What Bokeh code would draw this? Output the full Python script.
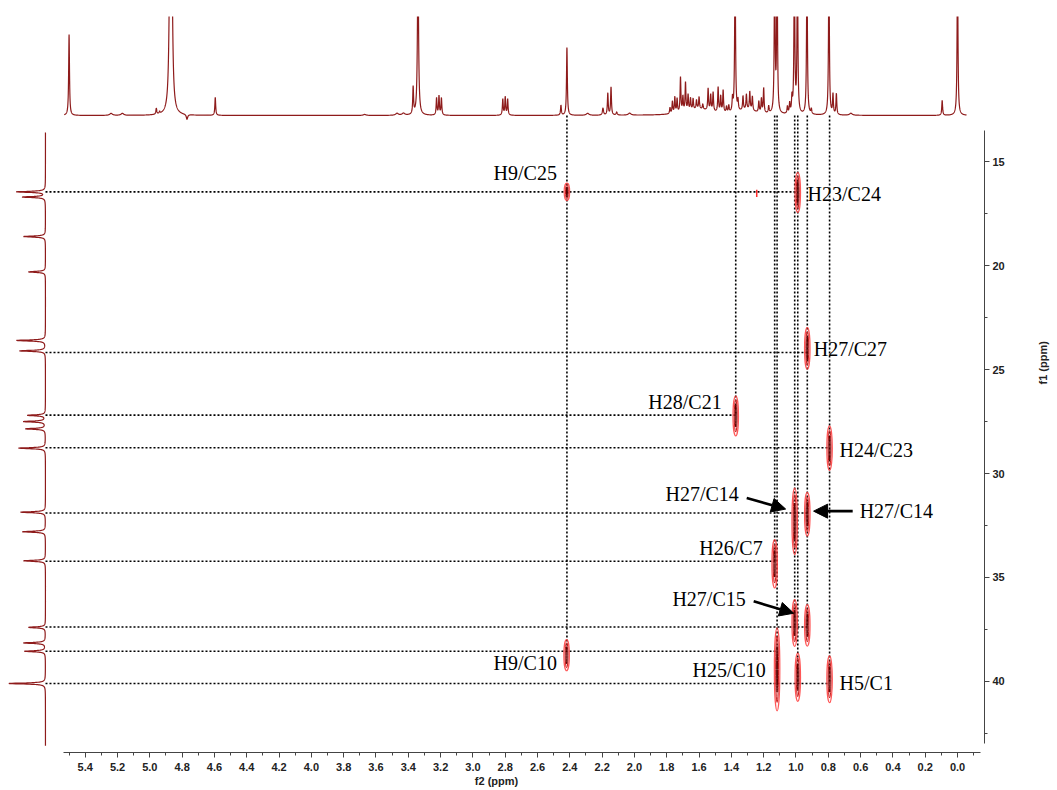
import numpy as np
from bokeh.plotting import figure
from bokeh.models import Range1d, FixedTicker, Arrow, NormalHead, NumeralTickFormatter, ColumnDataSource
from bokeh.core.properties import value
from bokeh.embed import file_html
from bokeh.resources import INLINE

# ---------------- data ----------------
f2_ticks = [5.4, 5.2, 5.0, 4.8, 4.6, 4.4, 4.2, 4.0, 3.8, 3.6, 3.4, 3.2, 3.0, 2.8,
            2.6, 2.4, 2.2, 2.0, 1.8, 1.6, 1.4, 1.2, 1.0, 0.8, 0.6, 0.4, 0.2, 0.0]
f2_minor = [5.5, 5.3, 5.1, 4.9, 4.7, 4.5, 4.3, 4.1, 3.9, 3.7, 3.5, 3.3, 3.1, 2.9, 2.7,
            2.5, 2.3, 2.1, 1.9, 1.7, 1.5, 1.3, 1.1, 0.9, 0.7, 0.5, 0.3, 0.1, -0.1]
f1_ticks = [15, 20, 25, 30, 35, 40]
f1_minor = [17.5, 22.5, 27.5, 32.5, 37.5, 42.5]

# 1H projection (ppm, height, half width)
h1_pos = [5.50, 5.24, 5.17, 4.96, 4.94, 4.875, 4.865, 4.77, 4.595, 3.67, 3.47, 3.43, 3.37, 3.34,
          3.225, 3.21, 3.195, 2.815, 2.80, 2.785, 2.455, 2.418, 2.29, 2.195, 2.165, 2.145, 2.11, 2.03,
          1.78, 1.765, 1.75, 1.736, 1.715, 1.70, 1.684, 1.668, 1.653, 1.637, 1.616, 1.60, 1.577,
          1.544, 1.528, 1.513, 1.482, 1.466, 1.451, 1.43, 1.416, 1.393, 1.377, 1.359, 1.328, 1.307,
          1.286, 1.27, 1.23, 1.214, 1.20, 1.169, 1.132, 1.117, 1.053, 1.039, 1.025, 1.010, 0.991,
          0.932, 0.905, 0.796, 0.771, 0.750, 0.66, 0.095, 0.0, 1.60, 1.30]
h1_int = [81, 2, 2, 6, 2, 160, 160, -5, 18, 1, 2, 2, 27, 160,
          17, 19, 17, 16, 18, 16, 10, 68, 2, 7, 22, 28, 3, 2,
          6, 12, 16, 14, 35, 15, 29, 16, 12, 11, 9, 12, 5,
          22, 16, 19, 25, 16, 22, 6, 7, 13, 160, 10, 14, 15,
          18, 14, 11, 14, 25, 7, 160, 160, 7, 10, 15, 160, 160,
          160, 5, 160, 20, 21, 2, 15, 160, 6, 5]
h1_w = [0.003, 0.01, 0.01, 0.003, 0.003, 0.006, 0.006, 0.005, 0.003, 0.01, 0.01, 0.01, 0.003, 0.004,
        0.003, 0.003, 0.003, 0.003, 0.003, 0.003, 0.003, 0.003, 0.01, 0.004, 0.003, 0.003, 0.004, 0.01,
        0.003, 0.003, 0.003, 0.003, 0.003, 0.003, 0.003, 0.003, 0.003, 0.003, 0.003, 0.003, 0.003,
        0.003, 0.003, 0.003, 0.003, 0.003, 0.003, 0.003, 0.003, 0.003, 0.003, 0.003, 0.003, 0.003,
        0.003, 0.003, 0.003, 0.003, 0.003, 0.003, 0.003, 0.003, 0.003, 0.003, 0.003, 0.003, 0.003,
        0.003, 0.003, 0.003, 0.003, 0.003, 0.01, 0.003, 0.003, 0.09, 0.06]

# 13C projection (ppm, height)
c13_pos = [16.45, 16.7, 18.6, 20.3, 23.6, 24.1, 27.2, 27.5, 27.85, 28.78, 31.86, 32.8, 34.2,
           37.4, 38.15, 38.55, 40.1]
c13_int = [29, 23, 22, 17, 29, 26, 18, 22, 20, 27, 25, 23, 22, 17, 22, 21, 37]

# HMBC cross peaks (f2, f1, extent in f1)
cp_f2 = [2.418, 0.989, 0.930, 1.373, 0.792, 1.008, 0.930, 1.132, 1.008, 0.930, 1.117, 0.989, 0.792, 2.420]
cp_f1 = [16.45, 16.48, 23.98, 27.23, 28.78, 32.30, 31.96, 34.34, 37.19, 37.30, 39.42, 39.80, 39.90, 38.74]
cp_h = [0.85, 1.93, 2.00, 1.93, 2.14, 3.20, 2.10, 2.33, 2.25, 2.00, 4.00, 2.33, 2.25, 1.50]
# weak artefact peaks (f2, f1 start, f1 end)
art_f2 = [1.243]
art_f1a = [16.35]
art_f1b = [16.70]

# dotted connectors
hline_f1 = [16.45, 24.18, 27.19, 28.76, 31.90, 34.22, 37.38, 38.55, 40.10]
hline_end = [0.989, 0.930, 1.373, 0.792, 0.930, 1.132, 0.930, 1.117, 0.792]
vline_f2 = [2.418, 1.373, 1.132, 1.117, 1.008, 0.989, 0.930, 0.792]
vline_end = [38.55, 27.19, 34.22, 38.55, 37.38, 40.10, 37.38, 40.10]

# labels
labL_text = ["H23/C24", "H27/C27", "H24/C23", "H27/C14", "H5/C1"]
labL_f2 = [0.928, 0.890, 0.730, 0.606, 0.730]
labL_f1 = [16.54, 24.00, 28.87, 31.81, 40.10]
labR_text = ["H9/C25", "H28/C21", "H27/C14", "H26/C7", "H27/C15", "H25/C10", "H9/C10"]
labR_f2 = [2.480, 1.460, 1.354, 1.206, 1.311, 1.187, 2.480]
labR_f1 = [15.53, 26.56, 31.00, 33.60, 36.05, 39.47, 39.13]

arrow_x0 = [1.305, 0.649, 1.262]
arrow_y0 = [31.18, 31.81, 36.15]
arrow_x1 = [1.064, 0.891, 1.014]
arrow_y1 = [31.71, 31.81, 36.72]

# layout parameters
TOP_F1 = 12.78      # f1 level of the 1H trace baseline
LEFT_F2 = 5.646     # f2 level of the 13C trace baseline
SPEC = "#8e1b1b"

# ---------------- figure ----------------
p = figure(width=1057, height=790, x_range=Range1d(5.875, -0.167), y_range=Range1d(43.42, 8.015),
           output_backend="svg", toolbar_location=None, y_axis_location="right",
           min_border_left=8, min_border_top=16, min_border_right=72, min_border_bottom=38)
p.extra_y_ranges = {"top": Range1d(-637, 99)}
p.extra_x_ranges = {"left": Range1d(37, -940)}
p.outline_line_color = None
p.xgrid.visible = False
p.ygrid.visible = False
p.background_fill_color = "white"

# 1H trace
xs = np.linspace(5.53, -0.056, 8000)
ys = np.zeros_like(xs)
for pos, h, w in zip(h1_pos, h1_int, h1_w):
    ys += h / (1 + ((xs - pos) / w) ** 2)
p.line(xs, ys, y_range_name="top", line_color=SPEC, line_width=1.2)

# 13C trace
cy = np.linspace(13.6, 43.1, 6000)
cx = np.zeros_like(cy)
for pos, h in zip(c13_pos, c13_int):
    cx += h / (1 + ((cy - pos) / 0.03) ** 2)
p.line(cx, cy, x_range_name="left", line_color=SPEC, line_width=1.2)

# dotted connectors
p.segment(x0=[LEFT_F2] * len(hline_f1), y0=hline_f1, x1=hline_end, y1=hline_f1,
          line_color="black", line_width=1.6, line_dash="2 2")
p.segment(x0=vline_f2, y0=[TOP_F1] * len(vline_f2), x1=vline_f2, y1=vline_end,
          line_color="black", line_width=1.6, line_dash="2 2")

# cross peaks as contour-like ellipses
src = ColumnDataSource(dict(x=cp_f2, y=cp_f1, h=cp_h,
                            h2=[v * 0.8 for v in cp_h], h3=[v * 0.55 for v in cp_h]))
p.ellipse(x="x", y="y", width=0.034, height="h", source=src, fill_color="#ff8080", fill_alpha=0.08,
          line_color="#ff3a3a", line_width=1.2, line_alpha=0.85)
p.ellipse(x="x", y="y", width=0.018, height="h2", source=src, fill_color=None,
          line_color="#c82020", line_width=1.0)
p.ellipse(x="x", y="y", width=0.006, height="h3", source=src, fill_color=None,
          line_color="#5a0000", line_width=1.0)
p.segment(x0=art_f2, y0=art_f1a, x1=art_f2, y1=art_f1b, line_color="#ff2a2a", line_width=1.5)

# labels
p.text(x=labL_f2, y=labL_f1, text=labL_text, text_align="left", text_baseline="middle",
       text_font=value("Liberation Serif"), text_font_size="20px", text_color="black")
p.text(x=labR_f2, y=labR_f1, text=labR_text, text_align="right", text_baseline="middle",
       text_font=value("Liberation Serif"), text_font_size="20px", text_color="black")

for x0, y0, x1, y1 in zip(arrow_x0, arrow_y0, arrow_x1, arrow_y1):
    p.add_layout(Arrow(end=NormalHead(size=14, fill_color="black", line_color="black"),
                       x_start=x0, y_start=y0, x_end=x1, y_end=y1,
                       line_color="black", line_width=2.6))

# axes
xa = p.xaxis[0]
xa.ticker = FixedTicker(ticks=f2_ticks, minor_ticks=f2_minor + f2_ticks)
xa.formatter = NumeralTickFormatter(format="0.0")
xa.bounds = (-0.14, 5.535)
xa.axis_label = "f2 (ppm)"
xa.axis_label_standoff = 1
ya = p.yaxis[0]
ya.ticker = FixedTicker(ticks=f1_ticks, minor_ticks=f1_minor + f1_ticks)
ya.bounds = (13.5, 43.0)
ya.axis_label = "f1 (ppm)"
ya.axis_label_standoff = 35
try:
    ya.axis_label_orientation = float(np.pi / 2)
except Exception:
    pass
for ax in (xa, ya):
    ax.major_label_text_font = "Liberation Sans"
    ax.major_label_text_font_style = "bold"
    ax.major_label_text_font_size = "11px"
    ax.major_label_text_color = "#222222"
    ax.axis_label_text_font = "Liberation Sans"
    ax.axis_label_text_font_style = "bold"
    ax.axis_label_text_font_size = "11px"
    ax.axis_label_text_color = "#222222"
    ax.major_tick_in = 0
    ax.major_tick_out = 5
    ax.minor_tick_in = 0
    ax.minor_tick_out = 3
    ax.axis_line_color = "#444444"
    ax.major_tick_line_color = "#444444"
    ax.minor_tick_line_color = "#444444"
xa.major_label_standoff = 5
ya.major_label_standoff = 3

open("out.html", "w").write(file_html(p, INLINE))
